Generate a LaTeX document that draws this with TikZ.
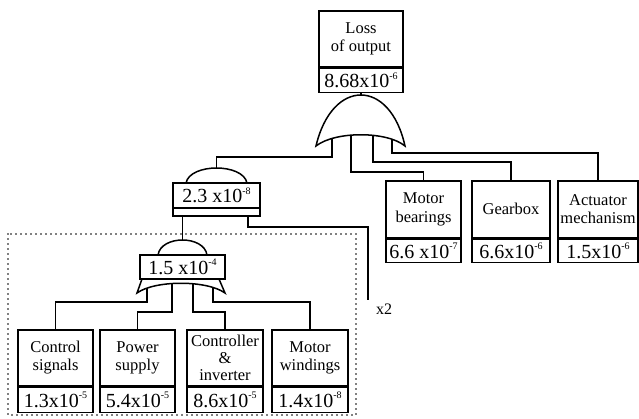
\documentclass[tikz,border=0pt]{standalone}
\usepackage{fontspec}
\setmainfont{Liberation Serif}
\newcommand\pw[1]{\raisebox{0.42em}{\fontsize{10}{10}\selectfont #1}}
\begin{document}
\begin{tikzpicture}[x=1pt,y=-1pt,line width=1.5pt,
  lab/.style={draw,line width=1.5pt,inner sep=0pt,align=center,anchor=north,
    minimum height=57pt,font=\fontsize{16.5}{18.5}\selectfont},
  val/.style={draw,line width=1.5pt,inner sep=0pt,anchor=north,
    minimum height=24pt,font=\fontsize{20}{21}\selectfont},
  gatebox/.style={draw,line width=1.5pt,inner sep=0pt,fill=white,
    minimum height=25pt,font=\fontsize{20}{21}\selectfont},
  gate/.style={draw,line width=1.5pt,fill=white,line join=miter},
  wire/.style={line width=1.5pt},
  dotbox/.style={line width=1.8pt,dash pattern=on 0pt off 5pt,line cap=round}]
\useasboundingbox (0,0) rectangle (639,418);

% dotted enclosure
\draw[dotbox] (8,234) rectangle (356,415);

% top event
\node[lab,minimum width=84pt,minimum height=56pt] (top) at (361,10) {Loss\\of output};
\node[val,minimum width=84pt] (topv) at (top.south) {8.68x10\pw{-6}};

% right basic events
\node[lab,minimum width=75pt] (mb) at (423.5,180) {Motor\\bearings};
\node[val,minimum width=75pt,minimum height=23pt] (mbv) at (mb.south) {6.6 x10\pw{-7}};
\node[lab,minimum width=78pt] (gb) at (511,180) {Gearbox};
\node[val,minimum width=78pt,minimum height=23pt] (gbv) at (gb.south) {6.6x10\pw{-6}};
\node[lab,minimum width=80pt] (ac) at (598,180) {Actuator\\mechanism};
\node[val,minimum width=80pt,minimum height=23pt] (acv) at (ac.south) {1.5x10\pw{-6}};

% bottom basic events
\node[lab,minimum width=75pt,minimum height=56pt] (b1) at (55.5,329) {Control\\signals};
\node[val,minimum width=75pt,minimum height=25pt] (b1v) at (b1.south) {1.3x10\pw{-5}};
\node[lab,minimum width=75pt,minimum height=56pt] (b2) at (137.5,329) {Power\\supply};
\node[val,minimum width=75pt,minimum height=25pt] (b2v) at (b2.south) {5.4x10\pw{-5}};
\node[lab,minimum width=76pt,minimum height=56pt,font=\fontsize{16.5}{17}\selectfont] (b3) at (225,329) {Controller\\\&\\inverter};
\node[val,minimum width=76pt,minimum height=25pt] (b3v) at (b3.south) {8.6x10\pw{-5}};
\node[lab,minimum width=76pt,minimum height=56pt] (b4) at (310,329) {Motor\\windings};
\node[val,minimum width=76pt,minimum height=25pt] (b4v) at (b4.south) {1.4x10\pw{-8}};

% gate ports
\coordinate (g1apex) at (361,96);
\coordinate (g1a) at (332,130);
\coordinate (g1b) at (351,130);
\coordinate (g1c) at (373,130);
\coordinate (g1d) at (392,130);
\coordinate (g2apex) at (216.5,168);
\coordinate (g2l) at (182.5,216);
\coordinate (g2r) at (248,216);
\coordinate (g3apex) at (182.5,240);
\coordinate (g3a) at (147,279);
\coordinate (g3b) at (172,279);
\coordinate (g3c) at (193,279);
\coordinate (g3d) at (213,279);
\coordinate (x2end) at (368,300);

% connectors
\draw[wire] (topv.south) -- (g1apex);
\draw[wire] (g1a) -- ++(0,27) -| (g2apex);
\draw[wire] (g1b) -- ++(0,42) -| (mb.north);
\draw[wire] (g1c) -- ++(0,32) -| (gb.north);
\draw[wire] (g1d) -- ++(0,23) -| (ac.north);
\draw[wire] (g2l) -- (g3apex);
\draw[wire] (g2r) -- ++(0,11) -| (x2end);
\draw[wire] (g3a) -- ++(0,23) -| (b1.north);
\draw[wire] (g3b) -- ++(0,33) -| (b2.north);
\draw[wire] (g3c) -- ++(0,33) -| (b3.north);
\draw[wire] (g3d) -- ++(0,23) -| (b4.north);

% top OR gate
\draw[gate] (316,146) .. controls (332,78) and (390,78) .. (405,146)
  .. controls (387,131) and (335,131) .. cycle;

% gate 2.3e-8
\draw[gate] (186,183) .. controls (190,163) and (243,163) .. (247,183);
\node[gatebox,minimum width=87pt] (g2) at (216.5,195.5) {2.3 x10\pw{-8}};
\draw[gate] (173,208) rectangle (260,216);

% gate 1.5e-4
\draw[gate] (158,255) .. controls (161,235) and (204,235) .. (207,255);
\node[gatebox,minimum width=85pt,minimum height=24pt] (g3) at (182.5,267) {1.5 x10\pw{-4}};
\draw[gate] (142,279) -- (137,293) .. controls (155,280) and (207,280) .. (225,293) -- (219,279) -- cycle;

\node[font=\fontsize{16}{18}\selectfont,inner sep=0pt] (x2) at (384,309) {x2};
\end{tikzpicture}
\end{document}
